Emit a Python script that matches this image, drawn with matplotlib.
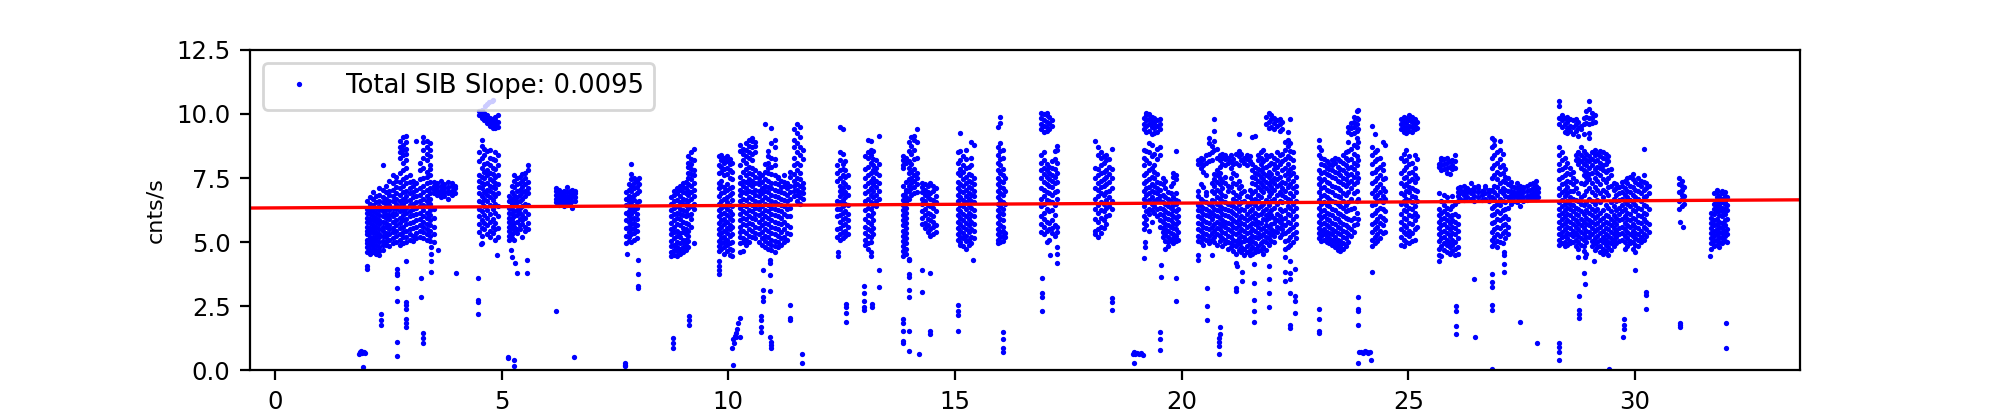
# SIB rate vs time, column by column.
# The densest clusters are thinned: not every original dot is listed.
import matplotlib
matplotlib.use('Agg')
import matplotlib.pyplot as plt

line_x = [-0.55, 33.64]
line_y = [6.33, 6.65]

x_ticks = [0, 5, 10, 15, 20, 25, 30]
y_ticks = [0.0, 2.5, 5.0, 7.5, 10.0, 12.5]

# isolated points
out_x = [1.85,1.88,1.9,1.93,1.96,1.98,1.95,2.02,2.02,2.33,2.33,2.33,2.7,2.7,2.7,2.7,2.7,2.7,2.7,2.9,2.9,2.9,2.9,2.9,2.9,2.9,3.23,3.23,3.26,3.26,3.26,3.45,3.45,3.45,3.45,3.6,4.0,
         4.55,4.89,4.49,4.49,4.49,4.49,4.63,4.68,4.73,4.78,4.82,5.2,5.24,5.3,5.34,5.55,5.55,5.15,5.15,5.28,5.28,6.2,6.6,7.76,8.0,8.0,8.0,8.0,7.73,7.73,7.73,
         8.77,8.77,8.77,9.14,9.14,9.14,9.24,9.8,9.8,9.8,9.8,10.1,10.14,10.18,10.2,10.22,10.25,10.25,10.12,10.16,10.09,10.1,10.76,10.76,10.76,10.76,10.73,10.73,10.73,10.73,10.92,10.92,10.92,10.92,10.92,10.94,10.94,10.94,11.36,11.36,11.36,11.63,11.63,
         12.43,12.43,12.6,12.6,12.6,12.6,13.0,13.0,13.0,13.0,13.0,13.17,13.17,13.33,13.33,13.99,13.99,13.99,13.99,13.99,13.86,13.86,13.86,13.86,13.86,13.99,13.99,14.2,14.28,14.28,14.44,14.44,14.44,15.4,15.07,15.07,15.07,15.07,16.07,16.07,16.07,16.07,
         17.25,17.25,17.25,17.1,16.92,16.92,16.92,16.92,18.46,18.46,18.46,18.92,18.95,18.98,19.02,19.06,19.1,19.14,18.96,19.2,19.2,19.18,19.54,19.54,19.88,19.88,19.53,19.53,19.53,
         20.37,20.37,20.68,20.57,20.57,20.57,20.85,20.85,20.83,20.83,20.83,20.82,21.2,21.22,21.2,21.2,21.33,21.33,21.6,21.6,21.6,21.6,21.6,21.92,21.92,21.92,21.92,22.27,22.27,22.28,22.38,22.38,22.38,22.38,22.5,22.5,22.5,22.5,22.4,22.4,
         23.04,23.04,23.04,23.04,23.88,23.88,23.88,23.88,23.92,23.96,24.0,24.04,24.08,24.12,24.15,23.9,24.17,24.2,25.68,26.06,26.06,26.06,26.06,26.46,26.48,26.85,26.85,26.85,26.85,26.85,26.84,27.1,27.1,27.1,27.1,27.47,27.83,
         28.75,28.9,29.1,28.88,28.9,28.77,28.77,28.77,28.77,28.33,28.33,28.33,28.33,29.43,29.76,29.76,29.75,29.74,29.99,30.25,30.25,30.25,30.2,31.0,31.05,31.0,31.0,31.0,31.66,32.0,32.0]
out_y = [0.62,0.7,0.75,0.66,0.73,0.68,0.12,3.95,4.05,1.75,1.95,2.2,0.55,1.1,2.7,3.2,3.7,3.8,3.95,2.66,2.55,2.4,2.0,1.85,1.7,4.25,3.6,2.87,1.44,1.25,1.05,4.8,4.55,4.25,3.85,4.7,3.78,
         4.92,4.48,3.6,2.75,2.65,2.18,10.33,10.4,10.46,10.5,10.55,4.7,4.4,4.2,3.8,4.3,3.78,0.53,0.47,0.4,0.15,2.3,0.5,4.55,4.3,3.74,3.3,3.2,0.3,0.22,0.15,
         1.25,1.05,0.85,2.1,1.95,1.75,4.98,4.25,4.05,3.9,3.75,1.2,1.35,1.45,1.6,1.85,2.05,1.3,1.05,1.3,0.85,0.2,3.9,3.14,2.85,2.7,2.1,1.95,1.7,1.5,4.3,4.2,3.7,3.1,1.3,1.1,0.98,0.88,2.56,2.05,1.95,0.65,0.27,
         4.6,4.45,2.6,2.45,2.25,1.9,3.3,3.0,2.7,2.45,2.35,2.6,2.45,3.9,3.25,4.3,3.75,3.65,3.15,2.85,2.0,1.85,1.55,1.15,1.05,1.55,0.75,0.65,3.9,3.07,3.8,1.55,1.4,4.3,2.55,2.3,2.15,1.55,1.5,1.2,0.85,0.7,
         4.8,4.55,4.2,4.5,3.6,3.0,2.85,2.3,2.8,2.65,2.35,0.62,0.7,0.65,0.68,0.62,0.66,0.58,0.27,5.0,4.8,4.37,4.1,3.65,3.6,2.72,1.5,1.2,0.8,
         4.5,4.3,4.5,3.2,2.5,1.95,1.7,1.4,1.25,1.1,0.95,0.65,4.2,4.05,3.2,3.1,3.85,3.5,4.15,3.4,2.75,2.3,1.9,4.05,3.55,3.0,2.45,4.4,3.85,3.5,4.25,3.8,3.55,3.0,3.95,2.9,2.7,2.25,1.75,1.65,
         2.4,2.0,1.55,1.45,2.85,2.4,2.3,1.75,0.7,0.72,0.68,0.74,0.7,0.66,0.72,0.3,0.4,3.85,4.25,2.5,2.3,1.72,1.4,3.55,1.3,3.74,3.45,3.25,2.55,2.35,0.05,4.6,4.5,4.15,3.85,1.9,1.05,
         4.4,4.4,4.25,3.8,3.35,2.9,2.35,2.2,2.05,1.05,0.9,0.7,0.4,0.05,2.0,1.75,1.6,1.3,3.9,3.05,2.95,2.4,8.65,5.8,5.6,1.85,1.75,1.7,4.47,1.85,0.85]

# 2 - 4 and 4.5 - 6.6
xs_a = [2.03,2.1,2.17,2.23,2.3,2.38,2.45,2.52,2.6,2.67,2.75,2.82,2.9,2.97,3.05,3.12,3.2,3.27,3.35,3.42,3.5,3.58,3.66,3.74,3.82,3.9,3.97]
ys_a = [[4.6,4.8,4.95,5.1,5.3,5.45,5.6,5.8,5.95,6.15,6.3,6.6],
        [4.55,4.7,4.9,5.05,5.2,5.4,5.55,5.75,5.9,6.1,6.25,6.5,6.75],
        [4.6,4.75,4.85,5.0,5.15,5.35,5.5,5.65,5.85,6.0,6.2,6.45,6.7,6.95],
        [4.55,4.7,4.9,5.1,5.25,5.4,5.6,5.8,5.95,6.15,6.35,6.55,6.8],
        [4.5,4.65,4.8,5.0,5.2,5.3,5.5,5.7,5.85,6.05,6.25,6.4,6.6,6.85,7.1],
        [4.7,4.9,5.05,5.25,5.45,5.6,5.8,6.0,6.2,6.35,6.55,6.75,7.05,8.0],
        [4.9,5.0,5.2,5.35,5.6,5.75,5.95,6.1,6.3,6.5,6.7,6.95,7.2],
        [4.85,5.1,5.3,5.5,5.65,5.9,6.05,6.25,6.45,6.6,6.85,7.0,7.4],
        [4.95,5.15,5.4,5.55,5.8,6.0,6.15,6.35,6.6,6.8,7.05,7.3,7.6],
        [5.0,5.25,5.45,5.65,5.85,6.1,6.3,6.5,6.7,6.9,7.15,7.4,7.55],
        [4.9,5.1,5.3,5.55,5.75,5.95,6.2,6.4,6.6,6.85,7.1,7.35,7.7,8.3,8.5,8.7,8.95],
        [4.95,5.2,5.4,5.6,5.85,6.05,6.25,6.5,6.7,6.95,7.2,7.45,7.8,8.1,8.4,8.6,8.8,9.1],
        [5.0,5.2,5.45,5.7,5.9,6.15,6.35,6.6,6.8,7.0,7.3,7.55,7.9,8.2,8.45,8.65,8.9,9.15],
        [5.1,5.3,5.5,5.75,6.0,6.2,6.45,6.65,6.9,7.1,7.35,7.6],
        [5.05,5.25,5.55,5.8,6.05,6.3,6.5,6.75,6.95,7.2,7.4],
        [5.15,5.35,5.6,5.85,6.1,6.35,6.55,6.8,7.05,7.3,8.95],
        [5.2,5.45,5.65,5.9,6.15,6.4,6.6,6.85,7.1,7.45,7.8,8.1],
        [5.15,5.4,5.6,5.8,6.0,6.25,6.45,6.7,6.95,7.2,7.5,7.9,8.3,8.6,8.9,9.1],
        [5.1,5.3,5.5,5.7,5.95,6.15,6.4,6.6,6.8,7.05,7.3,7.55,7.75,8.2,8.45,8.7,8.95],
        [5.05,5.25,5.45,5.65,5.85,6.05,6.25,6.5,6.7,6.9,7.1,7.35,7.6,7.85,8.0,8.35,8.6,8.85],
        [5.0,5.3,5.6,5.95,6.3,6.9,7.05,7.2,7.35],
        [6.85,7.0,7.15,7.3],
        [6.75,6.9,7.05,7.2,7.4],
        [6.8,6.95,7.1,7.25],
        [6.7,6.9,7.0,7.15,7.35],
        [6.85,7.0,7.2,7.3],
        [6.9,7.1,7.2]]

xs_b = [4.5,4.56,4.62,4.68,4.74,4.8,4.86,4.92,5.16,5.22,5.28,5.34,5.4,5.46,5.52,5.58,6.2,6.26,6.32,6.38,6.44,6.5,6.56,6.62]
ys_b = [[5.4,5.7,6.0,6.3,6.6,6.9,7.15,7.4,7.6,8.15,8.5,9.95,10.1],
        [4.95,5.25,5.55,5.85,6.2,6.55,6.8,7.1,7.3,7.55,7.9,8.3,8.75,9.0,9.85,10.0,10.15],
        [5.5,5.75,6.05,6.4,6.7,6.95,7.25,7.5,7.75,8.05,8.4,8.65,9.75,9.9,10.05],
        [5.3,5.65,5.95,6.25,6.6,6.85,7.05,7.3,7.6,7.8,8.1,8.55,9.65,9.8,9.95],
        [5.2,5.45,5.8,6.1,6.45,6.75,7.0,7.2,7.45,7.7,8.0,8.3,8.6,9.55,9.7,9.85],
        [5.35,5.6,5.9,6.3,6.65,6.9,7.15,7.4,7.65,7.9,8.25,9.45,9.65,9.8],
        [5.1,5.5,5.75,6.15,6.5,6.8,7.1,7.3,7.55,7.85,8.2,8.5,9.45,9.6,9.75,9.9],
        [5.2,5.55,6.0,6.4,6.9,7.25,7.6,8.0,8.4,9.5,9.7,9.95],
        [5.1,5.25,5.45,5.6,5.8,5.95,6.15,6.35,6.6,6.8],
        [5.15,5.3,5.55,5.7,5.9,6.1,6.3,6.5,6.7,6.95,7.2],
        [5.1,5.4,5.6,5.75,6.0,6.2,6.45,6.65,6.85,7.15,7.4,7.6],
        [5.35,5.5,5.8,6.05,6.25,6.55,6.75,7.0,7.25,7.5],
        [5.5,5.65,5.9,6.15,6.35,6.6,6.85,7.05,7.3,7.55],
        [5.2,5.7,5.85,6.05,6.4,6.7,6.95,7.15,7.4,7.65],
        [5.45,5.6,5.95,6.2,6.5,6.8,7.0,7.25,7.5,7.7],
        [5.5,5.75,6.1,6.45,6.9,7.1,7.35,8.0,7.8],
        [6.55,6.7,6.85,7.0,7.1],
        [6.45,6.6,6.75,6.9,7.05],
        [6.5,6.65,6.8,6.95],
        [6.4,6.55,6.7,6.85,7.0],
        [6.45,6.6,6.75,6.95,7.15],
        [6.5,6.7,6.85,7.0],
        [6.35,6.6,6.8,6.95,7.05],
        [6.6,6.75,6.9,7.0]]

# 7.7 - 11.6
xs_c = [7.74,7.8,7.86,7.92,7.98,8.02,8.73,8.8,8.87,8.94,9.0,9.06,9.12,9.18,9.24,9.79,9.85,9.91,9.97,10.03,10.09,10.25,10.32,10.39,10.46,10.53,10.6,10.67,10.74,10.81,10.88,10.95,11.02,11.09,11.16,11.23,11.3,11.37,11.44,11.51,11.58,11.64]
ys_c = [[4.95,5.25,5.55,5.85,6.15,6.45,6.7,6.95],
        [5.05,5.2,5.4,5.6,5.8,6.0,6.2,6.4,6.6,6.8,7.05,7.25],
        [5.0,5.3,5.5,5.7,5.9,6.1,6.3,6.55,6.75,7.0,7.2,7.45,7.65,8.05],
        [5.1,5.35,5.55,5.75,5.95,6.2,6.4,6.65,6.85,7.1,7.3,7.5],
        [5.15,5.45,5.65,5.9,6.1,6.35,6.55,6.9,7.15,7.4],
        [6.6,7.0,7.25,7.5],
        [4.45,4.6,4.85,5.05,5.3,5.5,5.75,6.0,6.25,6.5,6.75],
        [4.5,4.7,4.9,5.15,5.4,5.6,5.85,6.1,6.35,6.6,6.85,7.0],
        [4.45,4.65,4.8,5.0,5.25,5.45,5.7,5.95,6.15,6.4,6.65,6.9,7.1],
        [4.55,4.75,4.95,5.2,5.35,5.65,5.9,6.1,6.3,6.55,6.8,7.05,7.2],
        [4.6,4.8,5.0,5.1,5.4,5.55,5.8,6.05,6.25,6.5,6.7,6.95,7.15,7.3],
        [4.7,4.9,5.1,5.3,5.5,5.75,6.0,6.2,6.45,6.65,6.9,7.1,7.35],
        [4.8,5.05,5.25,5.45,5.7,6.05,6.35,6.6,6.85,7.0,7.25,7.5,7.7,7.95,8.1,8.35],
        [5.6,5.9,6.1,6.4,6.7,6.95,7.2,7.45,7.65,7.85,8.05,8.25,8.5],
        [6.3,6.5,6.8,7.05,7.3,7.6,7.8,8.2,8.65],
        [4.65,4.85,5.05,5.3,5.5,5.75,6.0,6.25,6.5,6.8,7.1,7.3,7.7,8.0,8.35],
        [4.75,4.95,5.15,5.35,5.6,5.85,6.1,6.35,6.6,6.9,7.2,7.4,7.75,7.95,8.2,8.4],
        [4.55,4.8,5.0,5.2,5.45,5.7,5.9,6.15,6.4,6.7,6.95,7.15,7.6,7.85,8.1,8.3],
        [4.65,4.9,5.1,5.35,5.55,5.8,6.05,6.3,6.55,6.75,7.05,7.25,7.65,7.9,8.15,8.35],
        [4.5,4.75,4.95,5.25,5.5,5.65,5.95,6.2,6.45,6.85,7.1,7.5,7.8,8.05,8.25],
        [4.45,4.7,5.0,5.3,5.6,5.85,6.1,6.4,6.65,6.9,7.15,7.45,7.75,8.1],
        [4.6,4.95,5.2,5.4,5.6,5.85,6.1,6.35,6.6,6.85,7.05,7.3,7.55,8.0,8.55,8.8],
        [4.65,5.0,5.15,5.45,5.7,5.95,6.2,6.45,6.7,6.95,7.2,7.4,7.75,8.2,8.45,8.65],
        [4.9,5.1,5.35,5.65,5.9,6.15,6.4,6.65,6.9,7.1,7.35,7.6,7.85,8.1,8.35,8.6,8.85],
        [5.0,5.25,5.5,5.75,6.0,6.25,6.5,6.75,7.0,7.25,7.45,7.7,7.95,8.3,8.5,8.75,9.0],
        [5.2,5.45,5.7,5.95,6.2,6.45,6.7,6.95,7.2,7.4,7.65,7.9,8.2,8.45,8.7,8.95,9.05],
        [5.15,5.35,5.6,5.9,6.1,6.35,6.6,6.85,7.05,7.3,7.55,7.8,8.5,8.75,8.9],
        [5.0,5.3,5.55,5.8,6.05,6.3,6.55,6.8,7.0,7.25,7.5,7.7,7.35],
        [4.9,5.15,5.4,5.65,5.9,6.15,6.4,6.65,6.9,7.1,7.35,7.6],
        [4.8,5.05,5.25,5.5,5.75,6.0,6.25,6.5,6.75,7.0,7.2,7.45,7.75,8.05,9.6],
        [4.75,4.95,5.2,5.45,5.7,5.95,6.2,6.45,6.7,6.95,7.15,7.4,7.7,7.9,8.1,8.35,8.55],
        [4.7,4.9,5.1,5.35,5.6,5.85,6.1,6.35,6.6,6.85,7.1,7.3,7.65,7.95,8.3,8.85,9.45],
        [4.6,4.85,5.05,5.3,5.55,5.8,6.05,6.3,6.55,6.8,7.05,7.3,7.6,8.0,8.25,8.7,9.0],
        [4.8,5.0,5.25,5.5,5.75,6.0,6.25,6.5,6.75,7.0,7.25,7.5,7.55],
        [4.9,5.15,5.4,5.7,5.95,6.2,6.45,6.7,6.95,7.15,7.4],
        [5.0,5.2,5.5,5.8,6.1,6.4,6.65,6.9,7.2,7.35,7.6],
        [5.1,5.35,5.65,6.0,6.3,6.6,6.85,7.1,7.3],
        [5.3,5.6,6.0,6.35,6.7,6.95,7.2,7.55,7.75],
        [6.8,7.0,7.2,7.4,7.65,8.0,8.3,8.7,9.0,9.4],
        [6.6,6.85,7.05,7.25,7.5,7.8,8.1,8.5,8.85,9.25,9.6],
        [6.5,6.75,6.95,7.2,7.45,7.7,8.0,8.4,8.7,9.1,9.5],
        [6.7,6.9,7.1,7.3,8.25,8.6]]

# 12.4 - 17.3
xs_d = [12.4,12.46,12.52,12.58,12.64,13.02,13.08,13.14,13.2,13.26,13.33,13.86,13.92,13.98,14.04,14.1,14.16,14.28,14.34,14.4,14.46,14.52,14.58,15.06,15.12,15.18,15.24,15.3,15.36,15.42,15.94,16.0,16.06,16.1,16.9,16.96,17.02,17.08,17.14,17.2,17.26]
ys_d = [[5.2,5.5,6.0,6.3,6.6,7.4,7.7,8.0],
        [5.1,5.3,5.55,5.8,6.05,6.3,6.55,6.8,7.0,7.2,7.5,7.8,8.2,8.5,9.5],
        [5.15,5.4,5.65,5.9,6.15,6.4,6.65,6.9,7.1,7.35,7.6,7.85,8.05,8.45,9.4],
        [5.25,5.45,5.7,5.95,6.2,6.5,6.75,6.95,7.25,7.55,7.8,8.15],
        [5.3,5.6,5.85,6.1,6.45,6.85,7.15,7.6],
        [4.9,5.1,5.35,5.6,5.9,6.25,6.6,6.9,7.2,7.5,7.85,8.35],
        [4.75,4.95,5.25,5.5,5.8,6.05,6.35,6.7,7.0,7.3,7.6,7.95,8.3,8.5,9.0],
        [4.6,4.45,5.0,5.2,5.45,5.7,6.0,6.3,6.55,6.85,7.1,7.4,7.7,8.1,8.4,8.6,8.95],
        [5.3,5.55,5.85,6.15,6.45,6.75,7.0,7.25,7.5,7.8,8.0,8.25,8.55],
        [6.4,6.6,6.85,7.15,7.4,7.7,7.9,8.2],
        [6.7,7.0,7.3,7.6,8.05,9.15],
        [4.45,4.65,4.85,5.05,5.25,5.45,5.65,5.85,6.05,6.25,6.45,6.65,6.85,7.2,7.9,8.0,8.2,8.35],
        [4.55,4.75,4.95,5.15,5.35,5.55,5.75,5.95,6.15,6.35,6.55,6.75,6.95,7.05,7.35,8.1,8.3],
        [4.3,4.35,6.7,7.0,7.2,7.45,7.7,7.9,8.15,8.55,8.9],
        [6.85,7.1,7.3,7.5,7.75,8.05,8.45,8.75,9.1],
        [6.9,7.15,7.4,7.6,7.85,8.25,8.6,9.0,9.15],
        [6.95,7.25,7.5,7.7,8.3,8.9,9.4],
        [5.7,5.95,6.2,6.5,6.7,6.95,7.15,7.3],
        [5.55,5.75,6.05,6.3,6.6,6.85,7.05,7.25],
        [5.4,5.65,5.9,6.15,6.45,6.75,6.95,7.2],
        [5.25,5.5,5.85,6.1,6.4,6.7,6.9,7.3],
        [5.3,5.6,5.8,6.0,6.35,6.65,7.0,7.2],
        [5.4,5.65,6.2,6.55,6.8,7.1],
        [5.1,5.3,5.55,5.8,6.05,6.3,6.6,6.85,7.1,7.35,7.7,8.1,8.5],
        [4.9,5.0,5.2,5.45,5.7,5.95,6.2,6.45,6.75,7.0,7.25,7.6,7.85,8.2,8.55,9.25],
        [4.85,5.15,5.35,5.6,5.85,6.1,6.4,6.65,6.95,7.2,7.45,7.75,8.0,8.35],
        [4.75,5.05,5.25,5.5,5.75,6.0,6.3,6.55,6.8,7.05,7.3,7.55,7.9,8.25,8.6],
        [4.9,5.1,5.4,5.65,5.9,6.15,6.45,6.7,6.9,7.15,7.4,7.65,7.95],
        [4.95,5.2,5.5,5.8,6.05,6.35,6.6,6.85,7.1,7.35,7.6,8.0,8.3,8.9],
        [5.15,5.45,5.7,6.0,6.25,6.55,6.8,7.0,7.25,7.5,8.8],
        [4.95,5.1,5.3,5.5,5.75,6.0,6.25,6.5,6.75,7.0,7.25,7.5,7.8,8.1,8.4,8.7,9.5],
        [5.0,5.2,5.4,5.65,5.9,6.15,6.4,6.65,6.9,7.15,7.4,7.7,8.0,8.25,8.55,8.85,9.65,9.9],
        [5.05,5.25,5.45,5.6,5.85,6.1,6.3,6.55,6.85,7.1,7.35,7.6,7.85,8.3,8.6],
        [5.2,5.35,6.5,7.0,7.5],
        [5.4,5.7,6.0,6.4,6.7,7.1,7.5,7.8,8.1,8.4,9.4,9.6,9.85,10.05],
        [5.3,5.6,5.9,6.15,6.5,6.8,7.05,7.35,7.65,7.9,8.2,8.5,9.3,9.55,9.75,10.0],
        [5.0,5.45,5.8,6.3,6.65,6.95,7.25,7.55,7.8,8.05,9.35,9.5,9.7,9.95,10.05],
        [5.1,5.5,5.75,6.2,6.6,6.9,7.2,7.45,7.7,7.95,9.4,9.65,9.9],
        [5.35,5.55,5.85,6.25,6.55,6.85,7.15,7.4,7.6,7.9,8.15,9.55,9.75],
        [5.25,5.65,6.05,6.45,6.95,7.3,7.55,7.85,8.25,8.55],
        [5.4,5.6,6.7,7.0,7.35,7.7,8.1,8.6,8.75]]

# 18.1 - 19.9
xs_e = [18.1,18.16,18.22,18.28,18.34,18.4,18.46,19.16,19.22,19.28,19.34,19.4,19.46,19.52,19.58,19.64,19.7,19.76,19.82,19.88,19.92]
ys_e = [[5.3,5.45,5.9,6.3,6.7,7.1,7.5,7.9,8.95],
        [5.2,5.5,5.8,6.15,6.45,6.8,7.05,7.3,7.6,7.85,8.4,8.7],
        [5.35,5.6,5.95,6.25,6.55,6.9,7.15,7.4,7.7,8.0,8.3,8.5],
        [5.55,5.85,6.2,6.5,6.85,7.2,7.45,7.75,8.1,8.35],
        [5.7,6.0,6.35,6.65,6.95,7.25,7.55,7.8,8.2,8.4],
        [6.05,6.4,6.75,7.0,7.35,7.65,7.95,8.25],
        [6.3,6.6,7.1,7.5,7.85,8.65],
        [5.5,5.75,6.0,6.4,6.7,7.0,7.3,7.6,8.0,8.3,8.6,9.4,9.6,9.85],
        [5.65,5.9,6.2,6.55,6.85,7.1,7.4,7.7,8.2,8.55,9.3,9.55,9.75,9.95,10.05],
        [5.45,6.1,6.3,6.65,6.9,7.15,7.45,7.8,8.1,8.5,8.85,9.35,9.6,9.8,10.0],
        [5.8,6.25,6.5,6.75,7.0,7.25,7.55,7.9,8.35,8.8,9.2,9.5,9.7,9.9],
        [6.15,6.4,6.6,6.95,7.2,7.5,7.75,8.0,8.45,9.25,9.45,9.65,9.85],
        [6.0,6.3,6.7,6.9,7.1,7.35,7.65,8.25,8.65,9.3,9.55,9.75],
        [5.6,5.85,6.1,6.35,6.6,6.8,7.05,7.3,8.4,8.7,9.4,9.6,9.8],
        [5.2,5.4,5.55,5.8,6.05,6.3,6.55,6.85,7.25,7.5],
        [4.75,5.05,5.3,5.5,5.7,5.95,6.2,6.5,6.75,7.1,7.4],
        [4.85,5.0,5.2,5.45,5.65,5.9,6.15,6.4,6.7,6.95],
        [5.1,5.35,5.6,5.85,6.1,6.35,6.6,6.9,7.2],
        [4.95,5.15,5.3,5.55,5.75,6.0,6.25,6.45,6.75,7.3,7.55,7.7],
        [5.05,5.25,5.5,5.7,5.95,6.2,6.5,6.65,6.9,7.45,7.6,8.55],
        [5.1,5.4,5.8,6.0,6.3,6.6]]

# 20.3 - 22.5, the widest block
xs_f = [20.36,20.42,20.48,20.54,20.6,20.66,20.72,20.78,20.84,20.9,20.96,21.02,21.08,21.14,21.2,21.26,21.32,21.38,21.44,21.5,21.56,21.62,21.68,21.74,21.8,21.86,21.92,21.98,22.04,22.1,22.16,22.22,22.28,22.34,22.4,22.46,22.52]
ys_f = [[5.05,5.25,5.5,5.75,6.0,6.25,6.45,6.8,7.0,8.05,8.2],
        [5.0,5.2,5.45,5.7,5.95,6.2,6.4,6.7,7.25,7.9,8.1,8.3],
        [4.9,5.15,5.35,5.6,5.85,6.1,6.35,6.6,7.15,7.75,8.0,8.25],
        [5.1,5.3,5.55,5.8,6.05,6.3,6.55,6.85,6.95,7.6,8.1,8.4],
        [4.95,5.05,5.25,5.5,5.75,6.0,6.2,6.5,8.15,8.45,8.85,9.05],
        [5.1,5.35,5.6,5.9,6.15,6.4,6.65,7.0,7.3,8.2,8.5,8.75],
        [5.0,5.2,5.45,5.7,6.05,6.3,6.6,6.9,7.2,7.45,7.65,8.6,8.95,9.33,9.8],
        [4.9,5.3,5.55,5.8,6.0,6.25,6.5,6.75,7.05,7.35,7.6,7.8,8.3,8.65],
        [5.05,5.25,5.5,5.7,5.95,6.2,6.4,6.7,6.95,7.25,7.5,7.7,7.95,8.2,8.4],
        [4.85,5.15,5.4,5.65,5.85,6.1,6.35,6.6,6.85,7.1,7.4,8.05,8.3,8.45],
        [4.95,5.1,5.35,5.6,5.8,6.05,6.3,6.55,6.8,7.3,7.55,8.0,8.25,8.4],
        [4.75,5.0,5.25,5.5,5.75,6.0,6.25,6.5,7.0,7.2,8.1,8.3],
        [4.8,4.95,5.2,5.45,5.7,5.95,6.2,6.45,7.15,7.5,7.9,8.15,8.4],
        [4.65,4.9,5.1,5.35,5.6,5.85,6.15,6.4,6.7,6.95,7.3,7.7,8.05,8.25],
        [4.55,4.85,5.05,5.3,5.55,5.8,6.05,6.35,6.6,6.85,7.25,7.6,8.1,8.45],
        [4.7,4.95,5.15,5.4,5.65,5.9,6.2,6.5,6.75,7.1,7.4,8.0,8.35,8.55,9.2],
        [4.6,4.8,5.0,5.25,5.5,5.75,6.0,6.3,6.55,6.9,7.2,8.2,8.45],
        [4.5,4.75,5.05,5.2,5.45,5.7,5.95,6.25,6.6,7.0,8.1,8.3],
        [4.6,4.85,5.1,5.35,5.6,5.85,6.1,6.4,6.8,8.0,8.25,8.4],
        [4.5,4.7,4.95,5.15,5.4,5.65,5.95,6.2,6.5,6.75,7.05,8.15,8.35],
        [4.55,4.8,5.05,5.25,5.5,5.75,6.0,6.3,6.65,6.9,7.3,7.55,7.8,8.05,9.1],
        [4.6,4.75,4.95,5.2,5.45,5.7,5.9,6.15,6.45,6.7,7.0,7.25,7.5,7.7,7.95,9.15],
        [4.65,4.85,5.15,5.35,5.6,5.8,6.05,6.35,6.6,6.85,7.15,7.4,7.65,7.85,8.2,8.4],
        [4.7,4.95,5.25,5.5,5.75,6.1,6.4,6.75,7.05,7.3,7.55,7.8,8.05,8.3,8.5],
        [4.55,4.8,5.05,5.3,5.55,5.9,6.2,6.5,6.95,7.2,7.45,7.7,7.9,8.15,8.6],
        [4.7,5.0,5.2,5.45,5.65,5.85,6.05,6.3,6.65,7.1,7.35,7.6,7.95,8.25,8.4,9.6,9.9],
        [4.9,5.15,5.35,5.6,5.95,6.15,6.45,6.8,7.0,7.25,7.55,7.75,8.0,8.35,9.45,9.7,10.05],
        [5.05,5.3,5.5,5.7,6.05,6.25,6.6,6.9,7.15,7.4,7.65,8.1,8.4,9.5,9.8,9.95],
        [5.0,5.25,5.45,5.75,5.95,6.35,6.7,7.05,7.3,7.5,7.85,8.05,8.3,9.4,9.65,9.85],
        [5.4,5.6,5.85,6.1,6.5,6.85,7.2,7.45,7.7,7.95,8.2,8.5,9.55,9.75],
        [5.2,5.55,5.8,6.0,6.3,6.6,6.95,7.25,7.55,8.05,8.4,9.35,9.6,9.8],
        [5.3,5.5,5.7,5.9,6.2,6.55,6.85,7.1,7.35,7.8,8.15,8.45,9.4,9.7],
        [4.75,5.05,5.35,5.65,5.95,6.25,6.75,7.0,7.3,7.6,7.9,8.25,8.6,8.9],
        [4.8,5.1,5.45,5.8,6.1,6.4,6.7,7.15,7.45,7.75,8.05,8.35,8.75,9.0,9.3],
        [4.9,5.2,5.5,5.75,6.05,6.35,6.65,6.9,7.25,7.6,7.85,8.3,8.55,8.85,9.8],
        [5.0,5.3,5.6,5.9,6.2,6.5,6.8,7.1,7.4,7.7,7.95,8.2,8.5],
        [5.15,5.4,5.7,6.0,6.35,6.6,6.95,7.2,7.55]]

# 23 - 25.2
xs_g = [23.02,23.08,23.14,23.2,23.26,23.32,23.38,23.44,23.5,23.56,23.62,23.68,23.74,23.8,23.86,23.9,24.2,24.26,24.32,24.38,24.44,24.49,24.84,24.9,24.96,25.02,25.08,25.14,25.2]
ys_g = [[5.15,5.35,5.55,5.8,6.05,6.35,6.65,6.95,7.25,7.5,7.8,8.4,8.7,9.0],
        [5.05,5.25,5.45,5.7,5.95,6.2,6.5,6.8,7.1,7.4,7.7,8.05,8.3,8.6],
        [5.1,5.3,5.5,5.75,6.0,6.25,6.55,6.85,7.15,7.45,7.75,8.0,8.25],
        [5.0,5.2,5.4,5.65,5.9,6.15,6.45,6.75,7.05,7.35,7.65,7.9,8.15],
        [4.95,5.15,5.35,5.6,5.85,6.1,6.4,6.7,7.0,7.3,7.6,7.85,8.05],
        [4.9,5.1,5.3,5.5,5.75,6.05,6.3,6.6,6.95,7.2,7.55,7.8,8.0,8.2],
        [4.8,5.0,5.2,5.45,5.7,5.95,6.25,6.55,6.85,7.15,7.5,7.75,8.1,8.3],
        [4.7,4.9,5.1,5.35,5.6,5.9,6.15,6.5,6.8,7.1,7.4,7.7,7.95,8.25],
        [4.65,4.85,5.05,5.3,5.55,5.8,6.1,6.4,6.75,7.05,7.35,7.6,7.85,8.15],
        [4.75,4.95,5.2,5.45,5.7,6.0,6.35,6.6,6.9,7.25,7.5,7.8,8.1,8.4],
        [4.85,5.15,5.4,5.65,5.95,6.2,6.45,6.85,7.2,7.45,7.7,8.0,8.3,8.5],
        [5.0,5.3,5.6,5.9,6.25,6.55,6.95,7.3,7.6,7.9,8.2,8.55,8.9,9.3,9.5],
        [5.25,5.5,5.85,6.3,6.7,7.1,7.4,7.65,7.95,8.25,8.65,9.2,9.45,9.65],
        [5.4,5.65,5.95,6.35,6.9,7.25,7.55,7.85,8.1,8.45,8.8,9.25,9.5,9.7,9.9],
        [5.7,6.15,6.6,7.0,7.35,7.7,8.0,8.35,8.7,9.05,9.35,9.6,9.85,10.1],
        [5.9,6.7,7.5,8.2,8.9,9.4,9.8,10.15],
        [4.85,5.1,5.4,5.7,6.05,6.45,6.9,7.3,7.7,8.05,8.4,8.7,9.55],
        [4.95,5.2,5.5,5.8,6.15,6.5,6.75,7.05,7.4,7.75,8.15,8.5,9.2],
        [5.05,5.3,5.6,5.9,6.25,6.6,6.85,7.15,7.5,7.85,8.25,8.6],
        [5.15,5.45,5.75,6.0,6.35,6.65,6.95,7.25,7.6,7.95,8.3],
        [5.35,5.65,5.95,6.3,6.55,6.8,7.1,7.45,7.8,8.05,8.9],
        [5.4,5.85,6.2,6.7,7.0,7.5,8.8],
        [4.9,5.2,5.5,5.8,6.1,6.5,6.9,7.3,7.7,8.3,9.4,9.6,9.8],
        [4.85,5.1,5.4,5.65,5.95,6.25,6.6,6.85,7.2,7.5,7.8,8.15,8.45,9.3,9.5,9.7,9.9],
        [5.0,5.3,5.6,5.9,6.2,6.45,6.7,7.0,7.25,7.55,7.95,8.2,8.6,9.25,9.45,9.65,9.85],
        [4.95,5.25,5.45,5.75,6.05,6.35,6.65,6.95,7.15,7.4,7.7,8.05,8.35,9.35,9.55,9.75,9.95],
        [5.05,5.35,5.7,6.0,6.3,6.55,6.8,7.1,7.45,7.75,8.1,9.3,9.5,9.7,9.9],
        [5.1,5.5,5.85,6.15,6.4,6.75,7.05,7.35,7.6,7.9,8.4,9.4,9.6,9.8],
        [5.6,6.0,6.6,7.0,7.5,8.25,9.45,9.7]]

# 25.7 - 27.9
xs_h = [25.67,25.73,25.79,25.85,25.91,25.97,26.03,26.09,26.15,26.22,26.3,26.38,26.46,26.54,26.62,26.7,26.78,26.84,26.9,26.96,27.02,27.08,27.14,27.2,27.26,27.33,27.4,27.47,27.54,27.61,27.68,27.75,27.82,27.87]
ys_h = [[4.5,4.75,5.05,5.3,5.55,5.8,6.05,6.3,6.9,7.95,8.05],
        [4.45,4.85,5.15,5.4,5.65,5.9,6.15,6.6,7.8,8.0,8.2,8.3],
        [4.7,4.95,5.2,5.45,5.7,5.95,6.2,6.45,6.85,7.85,8.05,8.25],
        [4.6,4.9,5.1,5.35,5.6,5.85,6.1,6.35,6.75,7.7,7.9,8.1,8.3],
        [4.55,4.8,5.0,5.25,5.5,5.75,6.0,6.3,7.65,7.95,8.15],
        [4.65,4.9,5.1,5.35,5.6,5.85,6.05,6.4,6.8,7.85,8.0,8.2],
        [4.5,4.75,5.0,5.3,5.55,5.8,6.1,6.5,7.9,8.15,8.4],
        [4.55,4.8,5.15,5.45,5.7,6.0,6.6,6.8,6.95,7.1],
        [6.7,6.9,7.05,7.15],
        [6.65,6.85,7.0,7.2],
        [6.75,6.95,7.1],
        [6.7,6.9,7.05,7.3],
        [6.6,6.8,7.0,7.15],
        [6.75,6.95,7.1,7.2],
        [6.65,6.85,7.0],
        [6.7,6.9,7.1,7.2],
        [6.6,6.8,6.95,7.05],
        [4.85,5.1,5.4,5.75,6.05,6.35,6.75,7.05,7.5,7.9,8.3,8.7,9.05],
        [4.95,5.2,5.5,5.8,6.1,6.4,6.7,6.95,7.2,7.6,8.0,8.4,8.8,9.0],
        [4.8,5.05,5.3,5.6,5.9,6.2,6.5,6.85,7.15,7.45,7.75,8.1,8.5],
        [5.0,5.25,5.55,5.85,6.15,6.45,6.7,7.0,7.3,7.65,7.95,8.25,8.6,8.95],
        [4.95,5.35,5.65,5.95,6.25,6.6,6.9,7.1,7.4,7.7,8.0,8.45],
        [5.15,5.45,5.7,6.0,6.3,6.55,6.8,7.05,7.35,7.55,7.85],
        [5.3,5.6,5.9,6.35,6.75,7.0,7.25,7.5],
        [6.5,6.7,6.85,7.0,7.2,7.35],
        [6.6,6.8,6.95,7.15],
        [6.55,6.75,6.9,7.1,7.3],
        [6.4,6.7,6.85,7.0,7.2],
        [6.6,6.75,6.95,7.1,7.15],
        [6.65,6.8,7.0,7.2],
        [6.7,6.85,7.05,7.25],
        [6.75,6.9,7.1,7.3],
        [6.7,6.85,7.0,7.2,7.4],
        [6.75,6.95,7.1]]

# 28.3 - 30.3
xs_i = [28.33,28.39,28.45,28.51,28.57,28.63,28.69,28.75,28.81,28.87,28.93,28.99,29.05,29.11,29.17,29.23,29.29,29.35,29.41,29.47,29.53,29.59,29.65,29.71,29.77,29.83,29.89,29.95,30.01,30.07,30.13,30.19,30.25,30.3]
ys_i = [[4.9,5.1,5.3,5.55,5.8,6.05,6.3,6.55,6.85,7.1,7.45,7.8,8.05,8.4,8.7,9.6,9.85,10.3,10.5],
        [4.95,5.2,5.4,5.65,5.9,6.15,6.4,6.65,6.95,7.25,7.55,7.85,8.2,8.5,9.5,9.75,9.95],
        [4.85,5.0,5.25,5.5,5.75,6.0,6.25,6.5,6.8,7.05,7.3,7.6,7.95,8.3,9.3,9.6,9.85],
        [4.9,5.15,5.35,5.6,5.85,6.1,6.35,6.6,6.9,7.15,7.4,7.7,8.1,9.25,9.45,9.7,9.9],
        [4.95,5.05,5.3,5.55,5.8,6.05,6.3,6.5,6.75,7.0,7.35,7.65,7.9,9.35,9.55,9.8],
        [5.0,5.25,5.45,5.7,5.95,6.2,6.45,6.7,7.0,7.25,7.5,7.75,9.2,9.5,9.75],
        [4.85,5.1,5.35,5.6,5.85,6.1,6.35,6.65,7.1,7.4,8.2,8.4,9.35,9.6,9.8],
        [4.75,5.0,5.25,5.5,5.75,6.05,6.3,6.6,6.9,8.05,8.25,8.5,9.15,9.45,9.7],
        [4.9,5.15,5.4,5.65,5.9,6.2,6.5,6.75,7.3,7.9,8.15,8.4,8.7,9.4,9.55],
        [4.65,4.85,5.1,5.3,5.55,5.8,6.1,6.45,6.85,7.25,7.6,7.8,8.05,8.3,8.55,9.2,9.6,9.85],
        [4.55,5.0,5.2,5.45,5.7,5.95,6.25,6.55,7.0,7.35,7.55,7.75,8.0,8.2,8.45,9.65,9.9,10.1],
        [5.2,5.4,5.65,5.85,6.15,6.4,6.7,7.1,7.45,7.65,7.9,8.15,8.35,9.05,9.25,9.6,9.85,10.2,10.5],
        [4.85,5.05,5.3,5.55,5.8,6.05,6.3,6.6,6.95,7.3,7.7,8.0,8.25,8.5,9.65,9.85,10.05],
        [4.7,4.95,5.15,5.45,5.7,5.95,6.2,6.5,6.85,7.15,7.5,7.85,8.15,8.4,8.6,9.7,9.95],
        [4.8,5.0,5.25,5.5,5.75,6.0,6.3,6.65,7.05,7.4,7.7,7.95,8.2,8.45],
        [4.6,4.85,5.1,5.35,5.6,5.85,6.15,6.55,6.9,7.25,7.6,7.9,8.1,8.35,8.55],
        [4.55,4.75,5.0,5.2,5.45,5.7,5.95,6.25,6.75,7.05,7.45,7.8,8.0,8.3,8.5],
        [4.65,4.9,5.1,5.3,5.55,5.8,6.05,6.45,6.95,7.35,7.75,8.05,8.25,8.45],
        [4.5,4.8,5.0,5.25,5.5,5.75,6.0,6.35,6.85,7.15,7.5,7.8,8.15,8.35],
        [4.7,4.95,5.15,5.4,5.65,5.9,6.2,6.55,7.2,7.6,7.85],
        [4.85,5.1,5.3,5.55,5.8,6.05,6.4,6.7,7.05,7.3],
        [4.95,5.2,5.45,5.7,5.95,6.25,6.6,6.85,7.1,7.25],
        [5.05,5.3,5.55,5.85,6.1,6.35,6.65,6.9,7.15],
        [5.1,5.35,5.6,5.9,6.2,6.45,6.7,6.95,7.2,7.35],
        [4.75,5.0,5.25,5.5,5.75,6.0,6.3,6.6,6.85,7.1,7.4],
        [4.85,5.15,5.4,5.65,5.9,6.15,6.5,6.75,7.0,7.3,7.5],
        [4.95,5.05,5.3,5.6,5.85,6.1,6.4,6.65,6.95,7.2,7.55],
        [4.75,5.0,5.25,5.45,5.7,5.95,6.25,6.55,6.85,7.15,7.45,7.65],
        [4.6,4.9,5.15,5.35,5.6,5.9,6.2,6.45,6.75,7.05,7.35],
        [4.85,5.1,5.3,5.55,5.8,6.05,6.35,6.7,7.0,7.25,7.5],
        [5.0,5.2,5.45,5.75,6.0,6.3,6.6,6.9,7.2,7.4],
        [5.1,5.3,5.6,5.9,6.15,6.45,6.75,7.05,7.35,7.6],
        [5.25,5.5,5.8,6.1,6.4,6.8,7.1,7.3],
        [5.4,5.7,6.3,6.9,7.2]]

# 30.9 - 32
xs_j = [30.97,31.03,31.08,31.68,31.74,31.8,31.86,31.92,31.98,32.03]
ys_j = [[6.3,6.6,6.95,7.25,7.5],
        [6.4,6.7,6.85,7.05,7.2,7.4],
        [6.5,6.8,7.15],
        [4.75,4.95,5.15,5.35,5.55,5.75,5.95,6.15],
        [4.85,5.05,5.25,5.45,5.65,5.85,6.1,6.3,6.5,6.9],
        [4.9,5.1,5.3,5.5,5.7,5.9,6.2,6.4,6.6,6.75,6.95,7.05],
        [4.8,5.0,5.2,5.4,5.6,5.8,6.05,6.25,6.45,6.65,6.8],
        [4.95,5.15,5.35,5.55,5.75,6.0,6.2,6.35,6.55,6.7,6.9,7.0],
        [5.05,5.25,5.45,5.65,5.85,6.1,6.3,6.5,6.6,6.8,6.95],
        [5.0,5.3,5.5,5.9,6.25,6.45,6.75]]

all_x = list(out_x)
all_y = list(out_y)
for xs, rows in [(xs_a,ys_a),(xs_b,ys_b),(xs_c,ys_c),(xs_d,ys_d),(xs_e,ys_e),
                 (xs_f,ys_f),(xs_g,ys_g),(xs_h,ys_h),(xs_i,ys_i),(xs_j,ys_j)]:
    for x, ys in zip(xs, rows):
        all_x += [x]*len(ys)
        all_y += ys

fig, ax = plt.subplots(figsize=(10, 2.08), dpi=200)
ax.plot(all_x, all_y, 'b.', markersize=1.8, label='Total SIB Slope: 0.0095')
ax.plot(line_x, line_y, 'r-', linewidth=1.2)
ax.set_xlim(line_x)
ax.set_ylim(0, 12.5)
ax.set_xticks(x_ticks)
ax.set_yticks(y_ticks)
ax.tick_params(labelsize=8.8)
ax.set_ylabel('cnts/s', fontsize=8)
ax.legend(loc='upper left', fontsize=9.3)
fig.savefig('out.png', dpi=200)
